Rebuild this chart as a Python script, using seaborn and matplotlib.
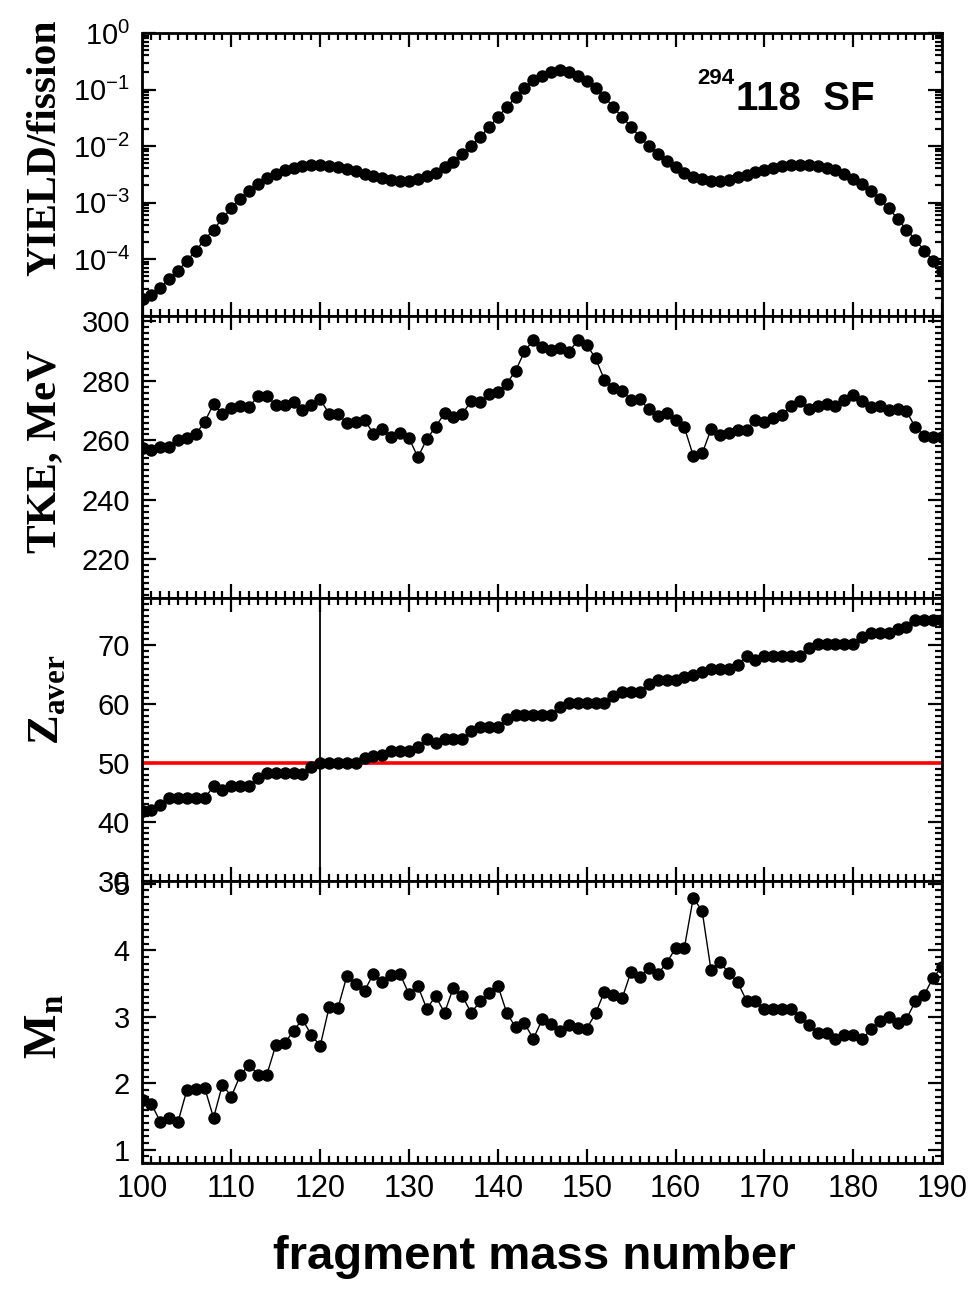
import numpy as np
import pandas as pd
import matplotlib
matplotlib.use("Agg")
import matplotlib.pyplot as plt
import seaborn as sns
from matplotlib.ticker import MultipleLocator, LogLocator, NullFormatter, FixedLocator

# ---------------- data ----------------
mass = list(range(100, 191))

yield_per_fission = [
    1.95e-5, 2.29e-5, 3.09e-5, 4.37e-5, 6.17e-5, 9.33e-5, 1.41e-4, 2.19e-4, 3.31e-4, 5.25e-4,
    7.94e-4, 1.15e-3, 1.62e-3, 2.14e-3, 2.75e-3, 3.24e-3, 3.72e-3, 4.07e-3, 4.37e-3, 4.57e-3,
    4.57e-3, 4.47e-3, 4.27e-3, 3.89e-3, 3.55e-3, 3.24e-3, 2.95e-3, 2.69e-3, 2.51e-3, 2.45e-3,
    2.45e-3, 2.63e-3, 2.95e-3, 3.39e-3, 4.17e-3, 5.25e-3, 7.24e-3, 1.00e-2, 1.45e-2, 2.14e-2,
    3.24e-2, 4.90e-2, 7.24e-2, 1.05e-1, 1.45e-1, 1.74e-1, 2.04e-1, 2.19e-1, 2.04e-1, 1.74e-1,
    1.41e-1, 1.05e-1, 7.41e-2, 4.90e-2, 3.24e-2, 2.19e-2, 1.45e-2, 1.00e-2, 7.24e-3, 5.37e-3,
    4.27e-3, 3.39e-3, 2.88e-3, 2.57e-3, 2.45e-3, 2.45e-3, 2.51e-3, 2.82e-3, 3.02e-3, 3.47e-3,
    3.80e-3, 4.07e-3, 4.37e-3, 4.57e-3, 4.68e-3, 4.57e-3, 4.37e-3, 4.07e-3, 3.72e-3, 3.24e-3,
    2.63e-3, 2.14e-3, 1.62e-3, 1.15e-3, 7.94e-4, 5.13e-4, 3.31e-4, 2.19e-4, 1.41e-4, 9.33e-5,
    6.17e-5,
]

tke = [
    257.4, 256.8, 257.7, 257.9, 260.2, 260.8, 262.1, 266.2, 272.3, 268.9,
    270.9, 271.7, 271.2, 274.9, 275.0, 271.9, 271.9, 272.8, 270.2, 271.9,
    273.8, 269.0, 269.0, 265.8, 266.2, 267.0, 262.1, 264.0, 261.0, 262.6,
    260.8, 254.3, 260.4, 264.6, 269.1, 267.8, 268.9, 273.2, 272.9, 275.5,
    276.4, 279.1, 283.4, 289.9, 293.8, 291.5, 290.4, 291.0, 289.8, 293.6,
    292.2, 287.6, 280.4, 277.7, 276.6, 273.7, 273.8, 270.4, 268.1, 269.1,
    266.9, 264.4, 254.8, 255.6, 263.7, 261.7, 262.6, 263.4, 263.5, 267.0,
    266.2, 267.5, 268.7, 271.5, 273.2, 270.7, 271.5, 272.2, 271.7, 273.5,
    275.3, 273.2, 271.3, 271.7, 270.2, 270.4, 269.8, 264.4, 261.6, 261.3,
    261.0,
]

z_aver = [
    41.8, 41.9, 42.9, 44.0, 44.0, 44.0, 44.0, 44.0, 46.0, 45.3,
    46.0, 46.0, 46.0, 47.4, 48.2, 48.2, 48.2, 48.2, 48.1, 49.3,
    50.0, 50.0, 50.0, 50.0, 50.0, 50.8, 51.1, 51.4, 52.0, 52.0,
    52.0, 52.7, 54.1, 53.4, 54.1, 54.1, 54.1, 55.4, 56.1, 56.1,
    56.1, 57.5, 58.1, 58.1, 58.1, 58.1, 58.1, 59.4, 60.1, 60.1,
    60.1, 60.1, 60.1, 61.4, 62.1, 62.1, 62.1, 63.4, 64.1, 64.1,
    64.1, 64.6, 64.9, 65.5, 66.0, 66.0, 66.0, 66.7, 68.1, 67.4,
    68.1, 68.1, 68.1, 68.1, 68.1, 69.5, 70.1, 70.1, 70.1, 70.1,
    70.1, 71.4, 72.1, 72.1, 72.1, 72.7, 73.0, 74.2, 74.2, 74.2,
    74.2,
]

m_n = [
    1.75, 1.69, 1.42, 1.48, 1.42, 1.90, 1.91, 1.93, 1.48, 1.98,
    1.80, 2.12, 2.28, 2.13, 2.13, 2.57, 2.60, 2.79, 2.96, 2.73,
    2.56, 3.14, 3.13, 3.61, 3.49, 3.39, 3.65, 3.52, 3.63, 3.64,
    3.34, 3.46, 3.12, 3.31, 3.06, 3.44, 3.31, 3.06, 3.23, 3.36,
    3.47, 3.06, 2.84, 2.90, 2.67, 2.96, 2.89, 2.79, 2.88, 2.83,
    2.82, 3.05, 3.38, 3.32, 3.28, 3.68, 3.60, 3.74, 3.64, 3.81,
    4.03, 4.04, 4.79, 4.59, 3.70, 3.82, 3.66, 3.52, 3.24, 3.24,
    3.11, 3.12, 3.12, 3.11, 3.00, 2.88, 2.76, 2.76, 2.66, 2.73,
    2.73, 2.66, 2.81, 2.93, 2.99, 2.90, 2.97, 3.23, 3.33, 3.59,
    3.75,
]

z_ref = 50
a_ref = 120
tke_ticks = [220, 240, 260, 280, 300]
z_ticks = [30, 40, 50, 60, 70]
mn_ticks = [1, 2, 3, 4, 5]
x_ticks = [100, 110, 120, 130, 140, 150, 160, 170, 180, 190]

df = pd.DataFrame({"A": mass, "Y": yield_per_fission, "TKE": tke, "Z": z_aver, "Mn": m_n})

# ---------------- style ----------------
sns.set_theme(style="ticks")
plt.rcParams["font.family"] = ["Liberation Sans", "DejaVu Sans"]
plt.rcParams["mathtext.fontset"] = "custom"
plt.rcParams["mathtext.rm"] = "Liberation Sans"
plt.rcParams["mathtext.bf"] = "Liberation Serif:bold"
plt.rcParams["mathtext.default"] = "regular"
plt.rcParams["axes.unicode_minus"] = False
plt.rcParams["axes.linewidth"] = 2.0
for key in ["text.color", "axes.labelcolor", "xtick.color", "ytick.color",
            "axes.edgecolor", "xtick.labelcolor", "ytick.labelcolor"]:
    plt.rcParams[key] = "black"

W, H = 978, 1291
fig = plt.figure(figsize=(W / 100, H / 100), dpi=100)
fig.patch.set_facecolor("white")

L, R = 142.5, 942.0
tops = [33.0, 315.5, 598.0, 880.5]
h = 282.5
axes = []
for t in tops:
    ax = fig.add_axes([L / W, 1 - (t + h) / H, (R - L) / W, h / H])
    ax.set_facecolor("white")
    axes.append(ax)
ax1, ax2, ax3, ax4 = axes

mk = dict(color="black", lw=1.0, marker="o", markersize=9.0, markeredgewidth=0,
          markerfacecolor="black", estimator=None, sort=False, legend=False)

sns.lineplot(data=df, x="A", y="Y", ax=ax1, **mk)
sns.lineplot(data=df, x="A", y="TKE", ax=ax2, **mk)
ax3.axhline(z_ref, color="red", lw=2.6, zorder=1.5)
ax3.axvline(a_ref, color="black", lw=1.3, zorder=1.5)
sns.lineplot(data=df, x="A", y="Z", ax=ax3, **mk)
sns.lineplot(data=df, x="A", y="Mn", ax=ax4, **mk)

# y axes
ax1.set_yscale("log")
ax1.set_ylim(1e-5, 1)
ax1.yaxis.set_major_locator(FixedLocator([1e-4, 1e-3, 1e-2, 1e-1, 1]))
ax1.yaxis.set_minor_locator(LogLocator(base=10, subs=np.arange(2, 10), numticks=20))
ax1.yaxis.set_minor_formatter(NullFormatter())

ax2.set_ylim(207, 302)
ax2.set_yticks(tke_ticks)
ax2.yaxis.set_minor_locator(MultipleLocator(2))

ax3.set_ylim(30, 78)
ax3.set_yticks(z_ticks)
ax3.yaxis.set_minor_locator(MultipleLocator(1))

ax4.set_ylim(0.8, 5.05)
ax4.set_yticks(mn_ticks)
ax4.yaxis.set_minor_locator(MultipleLocator(0.1))

for i, ax in enumerate(axes):
    ax.set_xlim(100, 190)
    ax.set_xticks(x_ticks)
    ax.xaxis.set_minor_locator(MultipleLocator(1))
    ax.tick_params(which="both", direction="in", top=True, right=True, width=1.6,
                   color="black")
    ax.tick_params(which="major", length=10)
    ax.tick_params(which="minor", length=5)
    ax.tick_params(axis="y", labelsize=21, pad=9, labelcolor="black")
    ax.tick_params(axis="x", labelsize=22, pad=8, labelcolor="black")
    ax.set_xlabel("")
    ax.set_ylabel("")
    for s in ax.spines.values():
        s.set_visible(True)
        s.set_linewidth(2.0)
        s.set_color("black")
    if i < 3:
        ax.tick_params(axis="x", labelbottom=False)

# axis labels
serif = ["Liberation Serif", "DejaVu Serif"]
fig.text(45 / W, 1 - 148 / H, "YIELD/fission", rotation=90, ha="center", va="center",
         family=serif, weight="bold", fontsize=30, color="black")
fig.text(45 / W, 1 - 451 / H, "TKE, MeV", rotation=90, ha="center", va="center",
         family=serif, weight="bold", fontsize=31, color="black")
fig.text(48 / W, 1 - 700 / H, r"$\mathbf{Z}_{\mathbf{aver}}$", rotation=90, ha="center",
         va="center", fontsize=32, color="black")
fig.text(45 / W, 1 - 1027 / H, r"$\mathbf{M}_{\mathbf{n}}$", rotation=90, ha="center",
         va="center", fontsize=34, color="black")

ax4.set_xlabel("fragment mass number", fontsize=34, weight="bold", color="black")
ax4.xaxis.set_label_coords(0.49, -0.255)
ax4.xaxis.label.set_va("top")

# annotation
fig.text(697 / W, 1 - 68 / H, "294", fontsize=16, weight="bold", ha="left", va="top",
         color="black")
fig.text(736 / W, 1 - 110 / H, "118  SF", fontsize=29, weight="bold", ha="left",
         va="baseline", color="black")

fig.savefig("out.png", dpi=100, facecolor="white")
